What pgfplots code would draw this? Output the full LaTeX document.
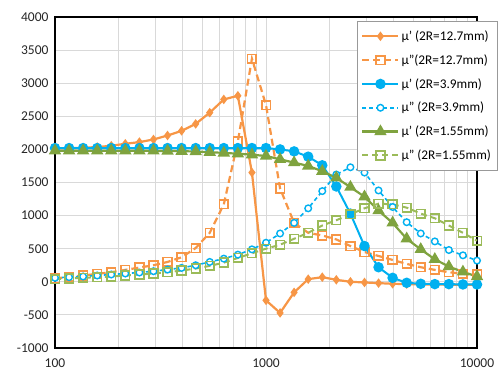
\documentclass[border=0pt]{standalone}
\usepackage{pgfplots}
\pgfplotsset{compat=1.18}
\usepackage{fontspec}
\setmainfont{Carlito}
\definecolor{cor}{HTML}{F79646}
\definecolor{cbl}{HTML}{00B0F0}
\definecolor{cgr}{HTML}{7FA33F}
\definecolor{cgr2}{HTML}{9BBB59}
\definecolor{gridc}{HTML}{D9D9D9}
\begin{document}
\begin{tikzpicture}
\useasboundingbox (-55pt,-26pt) rectangle (444pt,348pt);
\begin{axis}[
  at={(0pt,0pt)}, anchor=south west,
  scale only axis, width=422pt, height=331pt,
  xmode=log, xmin=100, xmax=10000,
  ymin=-1000, ymax=4000,
  xtick={100,1000,10000}, xticklabels={100,1000,10000},
  ytick={-1000,-500,0,500,1000,1500,2000,2500,3000,3500,4000},
  yticklabels={-1000,-500,0,500,1000,1500,2000,2500,3000,3500,4000},
  grid=both, xminorgrids=true,
  major grid style={gridc, line width=1pt},
  minor grid style={gridc, line width=1pt},
  major tick length=0pt, minor tick length=0pt,
  axis line style={black, line width=1.3pt},
  tick label style={font=\fontsize{13.5}{15}\selectfont, text=black!85},
  xticklabel style={yshift=-7pt},
  yticklabel style={xshift=-3pt},
  clip=false,
  legend style={at={(0.716,0.988)}, anchor=north west, draw=gray!80, fill=white,
    font=\fontsize{13.3}{15}\selectfont, row sep=8.6pt, inner xsep=4pt, inner ysep=7.5pt},
  legend cell align=left,
  legend image code/.code={\draw[mark repeat=2, mark phase=2, #1] plot coordinates {(0pt,0pt) (18pt,0pt) (36pt,0pt)};},
]
% orange mu'
\addplot[cor, line width=2.2pt, mark=diamond*, mark size=3pt, mark options={solid}] coordinates {
(100,2015)(116.6,2020)(135.9,2025)(158.5,2035)(184.8,2055)(215.4,2085)(251.2,2110)(292.9,2150)(341.5,2210)(398.1,2280)(464.2,2385)(541.2,2555)(631.0,2755)(735.6,2810)(857.7,1650)(1000,-280)(1166,-470)(1359,-160)(1585,40)(1848,70)(2154,30)(2512,0)(2929,-10)(3415,-20)(3981,-30)(4642,-35)(5412,-40)(6310,-40)(7356,-45)(8577,-45)(10000,-45)};
\addlegendentry{μ' (2R=12.7mm)}
% orange mu''
\addplot[cor, line width=2.2pt, dash pattern=on 7pt off 4pt, mark=square, mark size=4.3pt, mark options={solid, fill=white, line width=1.6pt}] coordinates {
(100,50)(116.6,75)(135.9,95)(158.5,120)(184.8,145)(215.4,180)(251.2,215)(292.9,250)(341.5,300)(398.1,370)(464.2,510)(541.2,740)(631.0,1170)(735.6,2120)(857.7,3370)(1000,2670)(1166,1410)(1359,890)(1585,740)(1848,700)(2154,640)(2512,540)(2929,450)(3415,390)(3981,330)(4642,270)(5412,220)(6310,180)(7356,145)(8577,120)(10000,110)};
\addlegendentry{μ''(2R=12.7mm)}
% blue mu'
\addplot[cbl, line width=2pt, mark=*, mark size=4.2pt, mark options={solid}] coordinates {
(100,2020)(116.6,2020)(135.9,2020)(158.5,2020)(184.8,2020)(215.4,2020)(251.2,2020)(292.9,2020)(341.5,2020)(398.1,2020)(464.2,2020)(541.2,2020)(631.0,2020)(735.6,2020)(857.7,2020)(1000,2020)(1166,2000)(1359,1970)(1585,1890)(1848,1760)(2154,1440)(2512,1030)(2929,540)(3415,220)(3981,60)(4642,-15)(5412,-30)(6310,-35)(7356,-35)(8577,-40)(10000,-40)};
\addlegendentry{μ' (2R=3.9mm)}
% blue mu''
\addplot[cbl, line width=1.6pt, dash pattern=on 4pt off 3pt, mark=*, mark size=3.3pt, mark options={solid, fill=white, line width=1.4pt}] coordinates {
(100,60)(116.6,70)(135.9,80)(158.5,95)(184.8,110)(215.4,125)(251.2,140)(292.9,160)(341.5,185)(398.1,210)(464.2,250)(541.2,300)(631.0,350)(735.6,410)(857.7,490)(1000,590)(1166,730)(1359,890)(1585,1110)(1848,1370)(2154,1620)(2512,1730)(2929,1650)(3415,1380)(3981,1130)(4642,900)(5412,730)(6310,610)(7356,480)(8577,400)(10000,320)};
\addlegendentry{μ'' (2R=3.9mm)}
% green mu'
\addplot[cgr, line width=2.2pt, mark=triangle*, mark size=5pt, mark options={solid}] coordinates {
(100,1980)(116.6,1980)(135.9,1980)(158.5,1980)(184.8,1980)(215.4,1980)(251.2,1980)(292.9,1978)(341.5,1976)(398.1,1973)(464.2,1968)(541.2,1958)(631.0,1947)(735.6,1935)(857.7,1920)(1000,1900)(1166,1850)(1359,1800)(1585,1750)(1848,1670)(2154,1570)(2512,1430)(2929,1285)(3415,1075)(3981,890)(4642,650)(5412,490)(6310,340)(7356,230)(8577,150)(10000,80)};
\addlegendentry{μ' (2R=1.55mm)}
% green mu''
\addplot[cgr2, line width=2pt, dash pattern=on 6pt off 4pt, mark=square, mark size=4.3pt, mark options={solid, fill=white, line width=1.6pt}] coordinates {
(100,40)(116.6,50)(135.9,60)(158.5,70)(184.8,80)(215.4,95)(251.2,110)(292.9,125)(341.5,145)(398.1,170)(464.2,200)(541.2,240)(631.0,290)(735.6,360)(857.7,430)(1000,500)(1166,560)(1359,650)(1585,740)(1848,850)(2154,930)(2512,1020)(2929,1110)(3415,1180)(3981,1170)(4642,1120)(5412,1030)(6310,960)(7356,850)(8577,740)(10000,620)};
\addlegendentry{μ'' (2R=1.55mm)}
\end{axis}
\end{tikzpicture}
\end{document}
